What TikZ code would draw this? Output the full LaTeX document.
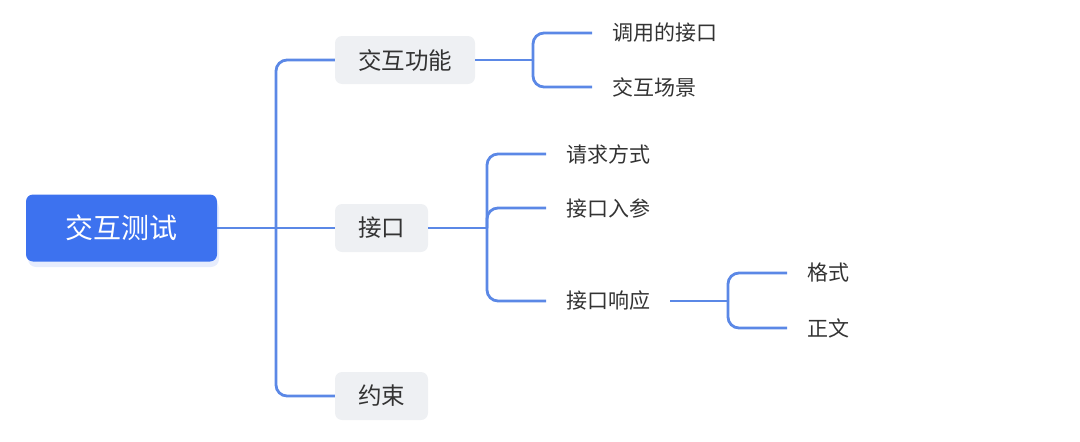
\documentclass[tikz,border=0pt]{standalone}
\usepackage{fontspec}
\setmainfont{Noto Sans CJK SC}
\definecolor{rootblue}{HTML}{3D72EF}
\definecolor{lineblue}{HTML}{5B88E6}
\definecolor{topicgray}{HTML}{EEF0F3}
\definecolor{textgray}{HTML}{333333}
\begin{document}
\begin{tikzpicture}[x=1pt,y=-1pt,
  conn/.style={draw=lineblue, line width=2.8pt, rounded corners=11pt},
  root/.style={fill=rootblue, rounded corners=7pt, minimum width=191pt, minimum height=67pt, text=white, font=\fontsize{28}{32}\selectfont},
  topic/.style={fill=topicgray, rounded corners=7pt, minimum height=48pt, text=textgray, font=\fontsize{23.5}{26}\selectfont},
  leaf/.style={text=textgray, font=\fontsize{21}{24}\selectfont, anchor=west, inner xsep=20pt, inner ysep=0pt}]
\useasboundingbox (0,0) rectangle (1080,442);
% shadow of root
\fill[rootblue!25, opacity=0.5, rounded corners=8pt] (28,200) rectangle (219,267);
\node[root] (root) at (121.5,228) {交互测试};
\node[topic, minimum width=140pt] (t1) at (405,60) {交互功能};
\node[topic, minimum width=93pt] (t2) at (381.5,228) {接口};
\node[topic, minimum width=93pt] (t3) at (381.5,396) {约束};
\coordinate (j1) at (276,228);
\draw[conn] (root.east) -- (t2.west);
\draw[conn] (j1) |- (t1.west);
\draw[conn] (j1) |- (t3.west);
% level 2 of t1
\node[leaf] (a1) at (592,33) {调用的接口};
\node[leaf] (a2) at (592,87) {交互场景};
\coordinate (ja) at (533,60);
\draw[conn] (t1.east) -- (ja);
\draw[conn] (ja) |- (a1.west);
\draw[conn] (ja) |- (a2.west);
% level 2 of t2
\node[leaf] (b1) at (546,154) {请求方式};
\node[leaf] (b2) at (546,208) {接口入参};
\node[leaf] (b3) at (546,301) {接口响应};
\coordinate (jb) at (487,228);
\draw[conn] (t2.east) -- (jb);
\draw[conn] (jb) |- (b1.west);
\draw[conn] (jb) |- (b2.west);
\draw[conn] (jb) |- (b3.west);
% level 3 of b3
\node[leaf] (c1) at (787,273) {格式};
\node[leaf] (c2) at (787,328) {正文};
\coordinate (jc) at (728,301);
\draw[conn] (b3.east) -- (jc);
\draw[conn] (jc) |- (c1.west);
\draw[conn] (jc) |- (c2.west);
\end{tikzpicture}
\end{document}
